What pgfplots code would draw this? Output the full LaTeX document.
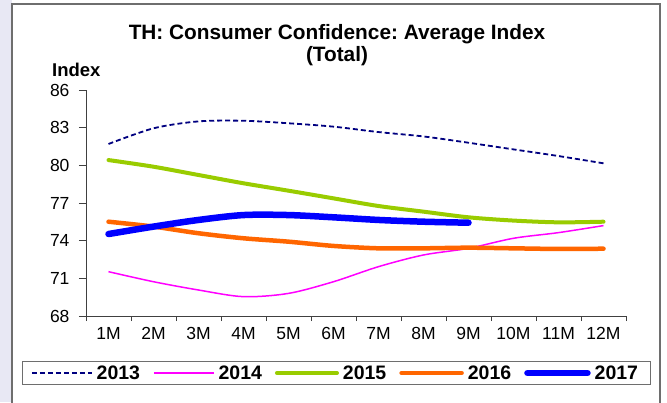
\documentclass[border=0pt]{standalone}
\usepackage{fontspec}
\setmainfont{Liberation Sans}
\usepackage{pgfplots}
\pgfplotsset{compat=1.18}
\definecolor{c2013}{RGB}{0,0,128}
\definecolor{c2014}{RGB}{255,0,255}
\definecolor{c2015}{RGB}{153,204,0}
\definecolor{c2016}{RGB}{255,102,0}
\definecolor{c2017}{RGB}{0,0,255}
\definecolor{lav}{RGB}{232,232,244}
\definecolor{framec}{RGB}{110,110,110}
\frenchspacing
\begin{document}
\begin{tikzpicture}[x=1pt,y=1pt]
\useasboundingbox (0,0) rectangle (667,402);
\fill[white] (0,0) rectangle (667,402);
\fill[lav] (0,0) rectangle (12,402);
\draw[framec, line width=1.2pt] (12,-5) -- (12,398) -- (660,398) -- (660,-5);
\node[anchor=base, font=\fontsize{20.8}{23}\selectfont\bfseries, inner sep=0pt] at (337,362) {TH: Consumer Confidence: Average Index};
\node[anchor=base, font=\fontsize{20.8}{23}\selectfont\bfseries, inner sep=0pt] at (337,340) {(Total)};
\node[anchor=base west, font=\fontsize{18.5}{21}\selectfont\bfseries, inner sep=0pt] at (52,325) {Index};
\begin{axis}[
  at={(86pt,86pt)}, anchor=south west,
  width=540pt, height=226pt, scale only axis,
  xmin=0.5, xmax=12.5, ymin=68, ymax=86,
  axis x line*=bottom, axis y line*=left,
  axis line style={-, black!75, line width=1pt},
  ytick={68,71,74,77,80,83,86},
  xtick={1,...,12},
  xticklabels={1M,2M,3M,4M,5M,6M,7M,8M,9M,10M,11M,12M},
  minor xtick={0.5,1.5,...,12.5},
  major x tick style={draw=none},
  minor x tick style={black!75, line width=0.8pt},
  y tick style={black!75, line width=0.8pt},
  tick align=outside,
  major tick length=7pt, minor tick length=5pt,
  /pgf/number format/assume math mode=true,
  ticklabel style={font=\fontsize{17.5}{20}\selectfont},
  yticklabel style={xshift=-6pt},
  xticklabel style={yshift=-1pt},
  legend columns=5,
  legend style={at={(0.4639,-0.2522)}, anchor=center, draw=framec, line width=1pt,
    font=\fontsize{19.5}{22}\selectfont\bfseries,
    inner xsep=8pt, inner ysep=1.5pt,
    /tikz/every even column/.append style={column sep=9pt},
    nodes={inner xsep=4pt}},
  legend image code/.code={\draw[#1] (0pt,0pt) -- (60pt,0pt);},
]
\addplot[c2013, line width=1.8pt, dash pattern=on 5pt off 3pt, smooth] coordinates {
(1,81.7) (2,82.95) (3,83.5) (4,83.55) (5,83.35) (6,83.08) (7,82.65) (8,82.3) (9,81.8) (10,81.27) (11,80.74) (12,80.16)};
\addlegendentry{2013}
\addplot[c2014, line width=1.5pt, smooth] coordinates {
(1,71.53) (2,70.73) (3,70.07) (4,69.54) (5,69.8) (6,70.73) (7,71.93) (8,72.86) (9,73.39) (10,74.19) (11,74.64) (12,75.2)};
\addlegendentry{2014}
\addplot[c2015, line width=4pt, smooth, line cap=round] coordinates {
(1,80.42) (2,79.89) (3,79.23) (4,78.57) (5,77.98) (6,77.37) (7,76.76) (8,76.31) (9,75.86) (10,75.6) (11,75.46) (12,75.51)};
\addlegendentry{2015}
\addplot[c2016, line width=4.5pt, smooth, line cap=round] coordinates {
(1,75.51) (2,75.12) (3,74.59) (4,74.19) (5,73.92) (6,73.58) (7,73.39) (8,73.39) (9,73.44) (10,73.39) (11,73.34) (12,73.36)};
\addlegendentry{2016}
\addplot[c2017, line width=6.5pt, smooth, line cap=round] coordinates {
(1,74.53) (2,75.12) (3,75.65) (4,76.04) (5,76.04) (6,75.86) (7,75.65) (8,75.51) (9,75.43)};
\addlegendentry{2017}
\end{axis}
\end{tikzpicture}
\end{document}
